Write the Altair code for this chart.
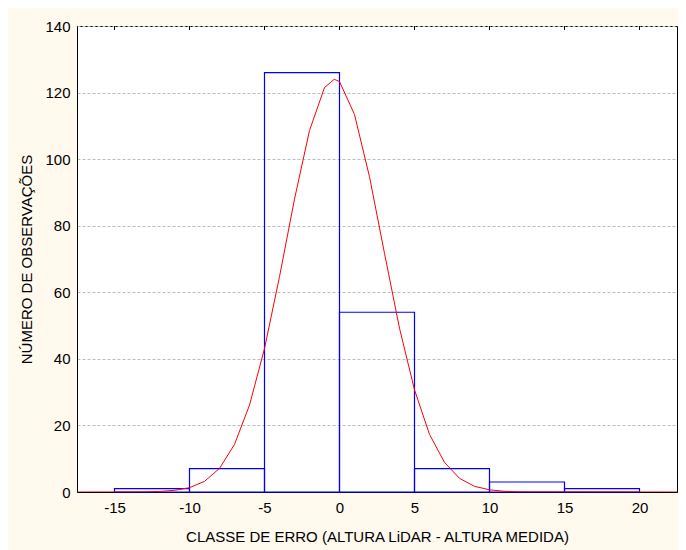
import altair as alt
import pandas as pd

# Histogram bins (class of error) and counts
bin_start = [-15, -10, -5, 0, 5, 10, 15]
bin_end = [-10, -5, 0, 5, 10, 15, 20]
counts = [1, 7, 126, 54, 7, 3, 1]

# Fitted normal curve
curve_x = [-17.5, -13, -12, -11, -10, -9, -8, -7, -6, -5, -4, -3, -2, -1, -0.35,
           0, 1, 2, 3, 4, 5, 6, 7, 8, 9, 10, 11, 12, 22.5]
curve_y = [0, 0.03, 0.16, 0.5, 1.3, 3.2, 7.1, 14.3, 26.1, 43.1, 64.7, 88.0, 108.6, 121.5, 124,
           123.3, 113.4, 94.7, 71.7, 49.2, 30.7, 17.3, 8.9, 4.1, 1.7, 0.66, 0.2, 0.05, 0]

x_ticks = [-15, -10, -5, 0, 5, 10, 15, 20]
y_ticks = [0, 20, 40, 60, 80, 100, 120, 140]

bars = pd.DataFrame({"start": bin_start, "end": bin_end, "count": counts})
curve = pd.DataFrame({"x": curve_x, "y": curve_y})
ticks = pd.DataFrame({"t": x_ticks})

FONT = "Liberation Sans"

xscale = alt.Scale(domain=[-17.5, 22.5], nice=False, zero=False)
yscale = alt.Scale(domain=[0, 140], nice=False)

xaxis = alt.Axis(values=x_ticks, title="CLASSE DE ERRO (ALTURA LiDAR - ALTURA MEDIDA)",
                 labelExpr="'' + datum.value",
                 grid=False, ticks=False, labelPadding=8, titlePadding=14,
                 labelFontSize=15, titleFontSize=15, labelFont=FONT, titleFont=FONT,
                 labelColor="#000", titleColor="#000", titleFontWeight="normal",
                 domainColor="#000")
yaxis = alt.Axis(values=y_ticks, title="NÚMERO DE OBSERVAÇÕES",
                 grid=True, gridColor="#bcbcbc", gridDash=[3, 2], gridWidth=1,
                 ticks=False, labelPadding=7, titlePadding=10,
                 labelFontSize=15, titleFontSize=15, labelFont=FONT, titleFont=FONT,
                 labelColor="#000", titleColor="#000", titleFontWeight="normal",
                 domainColor="#000")

rects = alt.Chart(bars).mark_rect(fill="white", fillOpacity=0, stroke="#0000ff",
                                  strokeWidth=1.2).encode(
    x=alt.X("start:Q", scale=xscale, axis=xaxis),
    x2="end:Q",
    y=alt.Y("count:Q", scale=yscale, axis=yaxis),
    y2=alt.datum(0),
)

line = alt.Chart(curve).mark_line(color="#ff0000", strokeWidth=1, clip=True).encode(
    x=alt.X("x:Q", scale=xscale),
    y=alt.Y("y:Q", scale=yscale),
)

top_ticks = alt.Chart(ticks).mark_rule(color="#000", strokeWidth=1).encode(
    x=alt.X("t:Q", scale=xscale),
    y=alt.value(0),
    y2=alt.value(4),
)

chart = alt.layer(rects, line, top_ticks).properties(
    width=600,
    height=466,
    background="#fff9ee",
    padding={"left": 69, "top": 18, "right": 1, "bottom": 58},
    autosize=alt.AutoSizeParams(type="none"),
).configure_view(
    fill="white", stroke="#000", strokeWidth=1
)

chart.save("out.html", embed_options={"renderer": "svg", "actions": False})
